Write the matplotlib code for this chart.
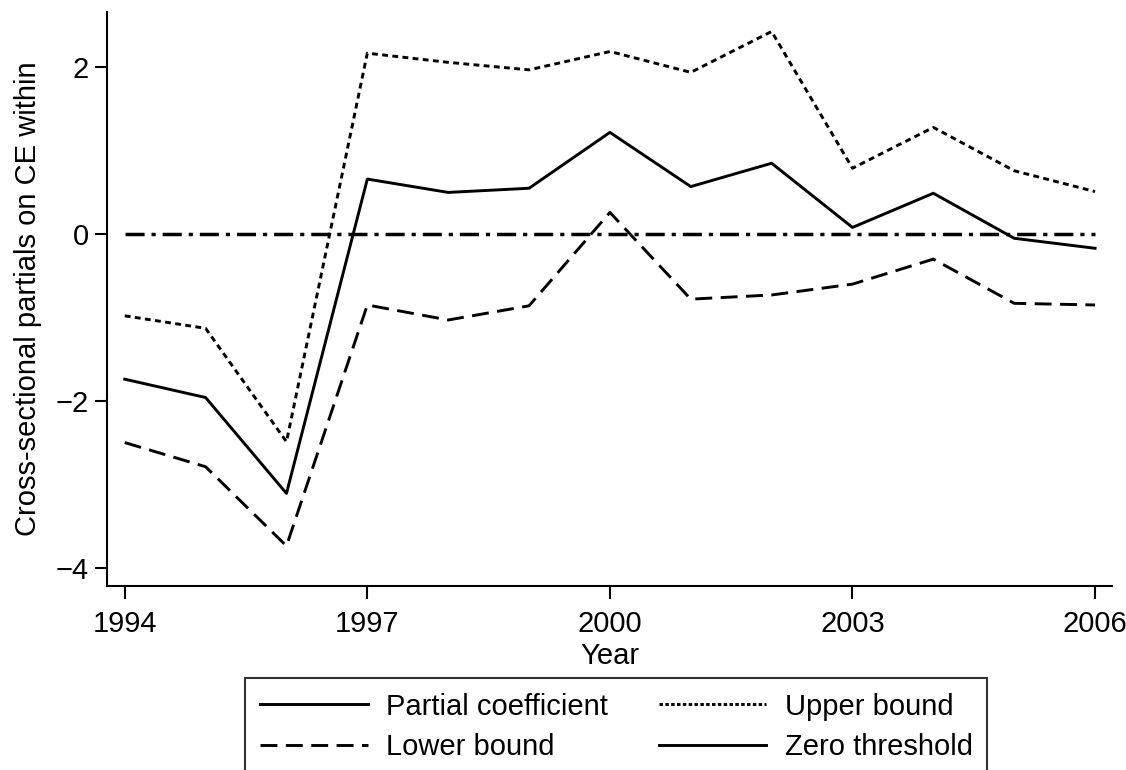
import matplotlib
matplotlib.use('Agg')
import matplotlib.pyplot as plt
from matplotlib.lines import Line2D

plt.rcParams['font.family'] = ['Liberation Sans', 'DejaVu Sans']

years = [1994, 1995, 1996, 1997, 1998, 1999, 2000, 2001, 2002, 2003, 2004, 2005, 2006]
partial = [-1.74, -1.96, -3.11, 0.66, 0.50, 0.55, 1.22, 0.57, 0.85, 0.08, 0.49, -0.05, -0.17]
upper = [-0.98, -1.13, -2.49, 2.17, 2.06, 1.97, 2.19, 1.94, 2.43, 0.79, 1.28, 0.76, 0.51]
lower = [-2.50, -2.79, -3.74, -0.85, -1.03, -0.86, 0.26, -0.78, -0.73, -0.60, -0.30, -0.83, -0.85]
zero = [0] * len(years)

xticks = [1994, 1997, 2000, 2003, 2006]
yticks = [-4, -2, 0, 2]

fs = 21

fig = plt.figure(figsize=(11.26, 7.7), dpi=100)
ax = fig.add_axes([0.095, 0.239, 0.8926, 0.745])

lw = 2.1
ax.plot(years, partial, color='black', lw=lw)
ax.plot(years, upper, color='black', lw=lw, dashes=(2.0, 1.5))
ax.plot(years, lower, color='black', lw=lw, dashes=(5.8, 2.9))
ax.plot(years, zero, color='black', lw=2.5, dashes=(5.5, 2.0, 1.2, 2.0))

ax.set_xlim(1993.78, 2006.21)
ax.set_ylim(-4.22, 2.66)
ax.set_xticks(xticks)
ax.set_yticks(yticks)
ax.set_yticklabels(['\u22124', '\u22122', '0', '2'])

for s in ['top', 'right']:
    ax.spines[s].set_visible(False)
for s in ['left', 'bottom']:
    ax.spines[s].set_linewidth(1.5)
ax.tick_params(direction='out', length=9, width=1.5, labelsize=fs)
ax.tick_params(axis='x', pad=8)
ax.tick_params(axis='y', pad=4)

ax.set_xlabel('Year', fontsize=fs, labelpad=3)
ax.set_ylabel('Cross-sectional partials on CE within', fontsize=fs, labelpad=10)

# legend in the Stata style: the zero line shows as a solid handle
handles = [
    Line2D([], [], color='black', lw=lw),
    Line2D([], [], color='black', lw=lw, dashes=(5.8, 2.9)),
    Line2D([], [], color='black', lw=lw, dashes=(1.2, 0.8)),
    Line2D([], [], color='black', lw=lw),
]
labels = ['Partial coefficient', 'Lower bound', 'Upper bound', 'Zero threshold']
leg = fig.legend(handles, labels, ncol=2, loc='upper left', bbox_to_anchor=(0.2176, 0.1195),
                 fontsize=fs, frameon=True, fancybox=False, edgecolor='black',
                 handlelength=3.7, handletextpad=0.62, columnspacing=1.75, labelspacing=0.42,
                 borderpad=0.5, borderaxespad=0)
leg.get_frame().set_linewidth(1.5)

fig.savefig('out.png', dpi=100)
